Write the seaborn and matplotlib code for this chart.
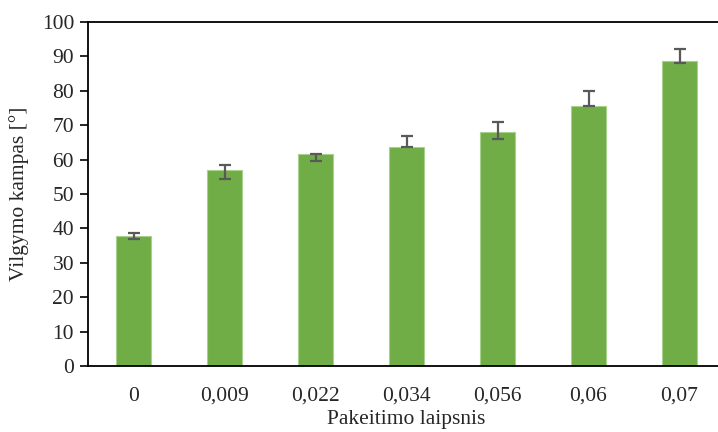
import matplotlib
matplotlib.use("Agg")
import matplotlib.pyplot as plt
import seaborn as sns
import numpy as np
import pandas as pd

# Degree of substitution vs. contact angle
categories = ["0", "0,009", "0,022", "0,034", "0,056", "0,06", "0,07"]
angle_mean = [37.8, 57.0, 61.6, 63.8, 67.9, 75.7, 88.8]
err_lower = [1.0, 2.5, 2.1, 0.1, 1.9, 0.1, 0.6]
err_upper = [0.9, 1.5, 0.0, 3.1, 3.0, 4.2, 3.4]

df = pd.DataFrame({"cat": categories, "angle": angle_mean})

sns.set_theme(style="white")
plt.rcParams["font.family"] = ["Liberation Serif", "DejaVu Serif"]

fig = plt.figure(figsize=(7.18, 4.32), dpi=100)
ax = fig.add_axes([88 / 718, 1 - 366 / 432, 637 / 718, 344 / 432])

sns.barplot(data=df, x="cat", y="angle", color="#70AD47", saturation=1,
            width=0.39, errorbar=None, ax=ax, edgecolor="#A9D18E", linewidth=0.8)

xpos = np.arange(len(categories))
ax.errorbar(xpos, angle_mean, yerr=[err_lower, err_upper], fmt="none",
            ecolor="#595959", elinewidth=1.6, capsize=4.5, capthick=1.6, zorder=5)

ax.set_xlim(-0.5, len(categories) - 0.5)
ax.set_ylim(0, 100)
ax.set_yticks(np.arange(0, 101, 10))

for side in ["left", "top", "bottom"]:
    ax.spines[side].set_visible(True)
    ax.spines[side].set_color("black")
    ax.spines[side].set_linewidth(1.3)
ax.spines["right"].set_visible(False)

ax.tick_params(axis="y", which="both", left=True, length=6, width=1.2,
               direction="out", color="black", labelsize=15.5, pad=4, labelcolor="#262626")
ax.tick_params(axis="x", length=0, labelsize=15.5, pad=15, labelcolor="#262626")

ax.set_xlabel("Pakeitimo laipsnis", fontsize=15.5, color="#262626", labelpad=3)
ax.set_ylabel("Vilgymo kampas [°]", fontsize=15.5, color="#262626", labelpad=9)

fig.savefig("out.png", dpi=100)
